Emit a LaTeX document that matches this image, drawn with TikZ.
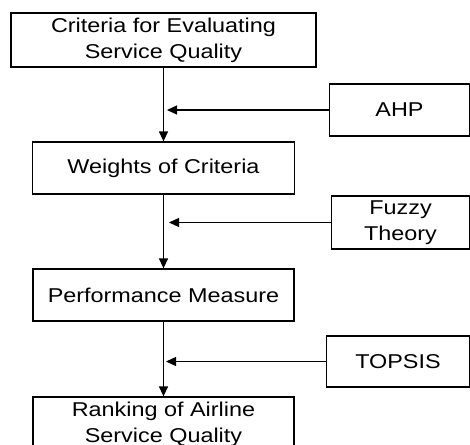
\documentclass[tikz,border=0pt]{standalone}
\usepackage{fontspec}
\setmainfont{Liberation Sans}[FakeStretch=1.17]
\usetikzlibrary{arrows.meta}
\tikzset{
  box/.style={draw, line width=1.3pt, inner sep=0pt, align=center,
    font=\fontsize{20}{26}\selectfont},
  flow/.style={line width=1.3pt, -{Triangle[length=10pt,width=9pt]}},
}
\begin{document}
\begin{tikzpicture}[x=1pt,y=-1pt]
\useasboundingbox (0,0) rectangle (470,444);
\node[box, minimum width=305pt, minimum height=54pt] (crit) at (163.5,40) {Criteria for Evaluating\\Service Quality};
\node[box, minimum width=262pt, minimum height=52pt] (wts) at (163.5,168) {Weights of Criteria};
\node[box, minimum width=261pt, minimum height=52pt] (perf) at (163.5,295) {Performance Measure};
\node[box, minimum width=261pt, minimum height=54pt] (rank) at (163.5,424) {Ranking of Airline\\Service Quality};
\node[box, minimum width=140pt, minimum height=52pt] (ahp) at (399.5,110) {AHP};
\node[box, minimum width=138pt, minimum height=53pt] (fuzzy) at (400.5,222.5) {Fuzzy\\Theory};
\node[box, minimum width=143pt, minimum height=51pt] (topsis) at (398,361.5) {TOPSIS};
\coordinate (m1) at (167,110);
\coordinate (m2) at (169,222.5);
\coordinate (m3) at (166,361.5);
\draw[flow] (crit.south) -- (wts.north);
\draw[flow] (wts.south) -- (perf.north);
\draw[flow] (perf.south) -- (rank.north);
\draw[flow] (ahp.west) -- (m1);
\draw[flow] (fuzzy.west) -- (m2);
\draw[flow] (topsis.west) -- (m3);
\end{tikzpicture}
\end{document}
